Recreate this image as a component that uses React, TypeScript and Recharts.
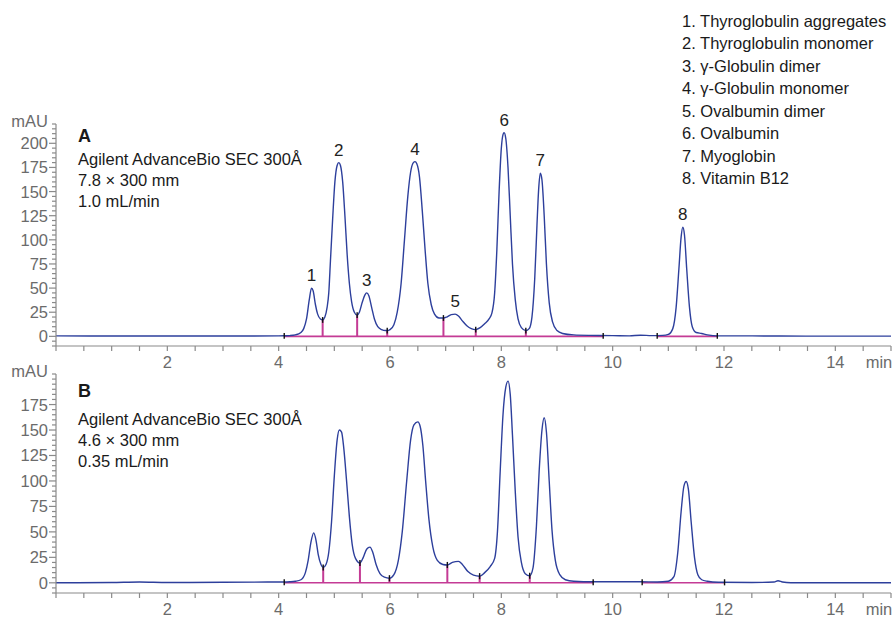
import React from 'react';
import { LineChart, Line, XAxis, YAxis, ReferenceLine, ReferenceDot } from 'recharts';

// ---------- Chromatogram A (7.8 x 300 mm, 1.0 mL/min) ----------
const timesA = [
  0, 1, 2, 3, 4.0, 4.1, 4.2, 4.3, 4.4, 4.45, 4.5, 4.55, 4.59, 4.62, 4.66, 4.7, 4.75, 4.79,
  4.83, 4.87, 4.9, 4.93, 4.97, 5.01, 5.05, 5.08, 5.11, 5.15, 5.19, 5.23, 5.27, 5.31, 5.36, 5.41,
  5.45, 5.5, 5.55, 5.58, 5.62, 5.67, 5.72, 5.78, 5.85, 5.92, 5.95, 6.0, 6.07, 6.13, 6.2, 6.26,
  6.32, 6.37, 6.42, 6.45, 6.48, 6.53, 6.58, 6.63, 6.68, 6.74, 6.8, 6.88, 6.96, 7.02, 7.1, 7.17,
  7.23, 7.3, 7.38, 7.46, 7.54, 7.62, 7.7, 7.78, 7.83, 7.88, 7.92, 7.96, 8.0, 8.03, 8.05, 8.08,
  8.12, 8.16, 8.2, 8.25, 8.3, 8.36, 8.44, 8.5, 8.55, 8.6, 8.64, 8.67, 8.7, 8.73, 8.77, 8.81,
  8.86, 8.92, 9.0, 9.1, 9.3, 9.6, 10.0, 10.3, 10.5, 10.7, 10.9, 11.0, 11.08, 11.14, 11.19, 11.23,
  11.26, 11.29, 11.33, 11.38, 11.43, 11.5, 11.6, 11.7, 11.9, 12.5, 13, 14, 15,
];
const valuesA = [
  0.5, 0.3, 0.4, 0.3, 0.5, 0.6, 0.8, 1.5, 4, 8, 18, 38, 50, 47, 33, 23, 18, 17,
  20, 30, 45, 78, 122, 160, 177, 180, 177, 160, 125, 85, 55, 36, 25, 22,
  25, 35, 43, 45, 42, 30, 18, 10, 7, 6, 6, 7, 12, 25, 55, 100,
  145, 170, 180, 181, 179, 165, 130, 90, 55, 33, 23, 19, 19, 20, 22.5, 23,
  21, 16, 11, 8, 7, 9, 13, 18, 24, 45, 90, 150, 195, 209, 211, 205,
  175, 125, 75, 38, 18, 9, 6, 8, 20, 60, 115, 152, 169, 162, 125, 75,
  35, 15, 6, 3, 1.5, 1, 0.8, 0.5, 1.2, 0.8, 1, 2, 8, 30, 70, 103,
  113, 105, 70, 30, 10, 4, 3, 1.5, 0.5, 0.5, 0.3, 0.2, 0.2,
];
const dropTimesA = [4.79, 5.41, 5.95, 6.96, 7.54, 8.44];
const dropValuesA = [17, 22, 6, 19, 7, 6];
const baseStartA = [4.1, 10.8];
const baseEndA = [9.83, 11.88];
const peakTimesA = [4.59, 5.08, 5.58, 6.45, 7.17, 8.05, 8.7, 11.26];
const peakValuesA = [50, 180, 45, 181, 23, 211, 169, 113];

// ---------- Chromatogram B (4.6 x 300 mm, 0.35 mL/min) ----------
const timesB = [
  0, 1, 1.5, 2, 3, 4, 4.1, 4.2, 4.3, 4.4, 4.48, 4.53, 4.58, 4.63, 4.67, 4.71, 4.76, 4.8,
  4.85, 4.9, 4.95, 5.0, 5.05, 5.09, 5.13, 5.17, 5.22, 5.27, 5.32, 5.38, 5.46, 5.52, 5.58, 5.64,
  5.69, 5.75, 5.82, 5.9, 5.99, 6.07, 6.15, 6.22, 6.3, 6.37, 6.43, 6.5, 6.54, 6.59, 6.64, 6.7,
  6.77, 6.85, 6.95, 7.03, 7.12, 7.23, 7.3, 7.4, 7.5, 7.61, 7.7, 7.8, 7.88, 7.93, 7.98, 8.03,
  8.08, 8.12, 8.16, 8.2, 8.25, 8.3, 8.36, 8.43, 8.51, 8.57, 8.63, 8.68, 8.73, 8.77, 8.81, 8.86,
  8.91, 8.97, 9.05, 9.15, 9.3, 9.65, 10.0, 10.5, 10.8, 11.0, 11.1, 11.17, 11.23, 11.28, 11.32, 11.36,
  11.41, 11.47, 11.53, 11.6, 11.7, 11.9, 12.5, 12.9, 12.97, 13.05, 13.2, 14, 15,
];
const valuesB = [
  0, 0.3, 0.8, 0.3, 0.5, 0.8, 0.8, 1, 1.5, 3, 10, 22, 40, 49, 42, 28, 18, 15,
  18, 30, 60, 105, 140, 150, 148, 132, 100, 65, 38, 24, 19.5, 25, 33, 35,
  30, 18, 9, 5.5, 4.5, 8, 22, 50, 100, 140, 155, 158, 154, 135, 100, 62,
  35, 22, 18, 17.5, 20, 21, 18, 11, 7.5, 6.5, 10, 16, 24, 50, 110, 165,
  192, 198, 185, 145, 90, 45, 20, 9, 7, 15, 55, 110, 150, 162, 148, 100,
  52, 22, 8, 3, 1.5, 1, 1, 1, 0.8, 1.5, 6, 30, 70, 95, 99.5, 92,
  60, 25, 8, 3, 1.5, 0.5, 0.3, 0.8, 2, 0.8, 0, 0, 0,
];
const dropTimesB = [4.8, 5.46, 5.99, 7.03, 7.61, 8.51];
const dropValuesB = [15, 19.5, 4.5, 17.5, 6.5, 7];
const baseStartB = [4.1, 10.53];
const baseEndB = [9.65, 12.01];

// ---------- Axis ticks & texts ----------
const xTicks = Array.from({ length: 31 }, (_, i) => i * 0.5);
const xLabelTicks = [2, 4, 6, 8, 10, 12, 14];
const yTicksA = Array.from({ length: 47 }, (_, i) => -10 + i * 5);
const yTicksB = Array.from({ length: 44 }, (_, i) => -10 + i * 5);
const yLabelMaxA = 200;
const yLabelMaxB = 175;
const legendItems = [
  '1. Thyroglobulin aggregates',
  '2. Thyroglobulin monomer',
  '3. γ-Globulin dimer',
  '4. γ-Globulin monomer',
  '5. Ovalbumin dimer',
  '6. Ovalbumin',
  '7. Myoglobin',
  '8. Vitamin B12',
];
const infoA = ['Agilent AdvanceBio SEC 300Å', '7.8 × 300 mm', '1.0 mL/min'];
const infoB = ['Agilent AdvanceBio SEC 300Å', '4.6 × 300 mm', '0.35 mL/min'];

const FONT = '"Liberation Sans", Arial, sans-serif';
const BLUE = '#2d3f9c';
const MAGENTA = '#c43b95';
const AXIS = '#8a8a8a';
const TICKTXT = '#6b6b6b';

const rowsA = timesA.map((t, i) => ({ t, v: valuesA[i] }));
const rowsB = timesB.map((t, i) => ({ t, v: valuesB[i] }));

const XTick = (props: any) => {
  const { x, y, payload } = props;
  const val = payload.value;
  const isLabel = xLabelTicks.includes(val);
  return (
    <g>
      <line x1={x} y1={y} x2={x} y2={y + 5} stroke={AXIS} strokeWidth={1.2} />
      {isLabel && (
        <text x={x} y={y + 22} textAnchor="middle" fontSize={16.5} fill={TICKTXT} fontFamily={FONT}>
          {val}
        </text>
      )}
      {val === 15 && (
        <text x={x - 12} y={y + 22} textAnchor="middle" fontSize={16.5} fill={TICKTXT} fontFamily={FONT}>
          min
        </text>
      )}
    </g>
  );
};

const makeYTick = (maxLabel: number, topVal: number) => (props: any) => {
  const { x, y, payload } = props;
  const val = payload.value;
  const major = val % 25 === 0 && val >= 0 && val <= maxLabel;
  return (
    <g>
      <line x1={x - (major ? 7 : 4)} y1={y} x2={x} y2={y} stroke={AXIS} strokeWidth={1.2} />
      {major && (
        <text x={x - 8} y={y + 6} textAnchor="end" fontSize={16.5} fill={TICKTXT} fontFamily={FONT}>
          {val}
        </text>
      )}
      {val === topVal && (
        <text x={x - 8} y={y + 3} textAnchor="end" fontSize={16.5} fill={TICKTXT} fontFamily={FONT}>
          mAU
        </text>
      )}
    </g>
  );
};

function Panel(props: {
  rows: { t: number; v: number }[];
  width: number;
  height: number;
  top: number;
  yDomain: [number, number];
  yTicks: number[];
  yMaxLabel: number;
  dropT: number[];
  dropV: number[];
  bStart: number[];
  bEnd: number[];
  peakT?: number[];
  peakV?: number[];
}) {
  const { rows, width, height, top, yDomain, yTicks, yMaxLabel, dropT, dropV, bStart, bEnd, peakT, peakV } = props;
  const topVal = yTicks[yTicks.length - 1];
  return (
    <LineChart width={width} height={height} data={rows} margin={{ top, right: 3, left: 0, bottom: 0 }}>
      <XAxis
        dataKey="t"
        type="number"
        domain={[0, 15]}
        ticks={xTicks}
        interval={0}
        tickSize={0}
        tickMargin={0}
        height={24}
        stroke={AXIS}
        strokeWidth={1.2}
        tick={<XTick />}
        allowDataOverflow
      />
      <YAxis
        type="number"
        domain={yDomain}
        ticks={yTicks}
        interval={0}
        tickSize={0}
        tickMargin={0}
        width={56}
        stroke={AXIS}
        strokeWidth={1.2}
        tick={makeYTick(yMaxLabel, topVal)}
        allowDataOverflow
      />
      {bStart.map((s, i) => (
        <ReferenceLine
          key={'b' + i}
          segment={[{ x: s, y: 0 }, { x: bEnd[i], y: 0 }]}
          stroke={MAGENTA}
          strokeWidth={1.6}
        />
      ))}
      {dropT.map((t, i) => (
        <ReferenceLine
          key={'d' + i}
          segment={[{ x: t, y: 0 }, { x: t, y: dropV[i] }]}
          stroke={MAGENTA}
          strokeWidth={2}
        />
      ))}
      <Line type="monotone" dataKey="v" stroke={BLUE} strokeWidth={1.4} dot={false} isAnimationActive={false} />
      {dropT.map((t, i) => (
        <ReferenceLine
          key={'k' + i}
          segment={[{ x: t, y: dropV[i] - 3 }, { x: t, y: dropV[i] + 3 }]}
          stroke="#111"
          strokeWidth={1.4}
        />
      ))}
      {[...bStart, ...bEnd].map((t, i) => (
        <ReferenceLine
          key={'e' + i}
          segment={[{ x: t, y: -2.5 }, { x: t, y: 3.5 }]}
          stroke="#111"
          strokeWidth={1.4}
        />
      ))}
      {peakT &&
        peakV &&
        peakT.map((t, i) => (
          <ReferenceDot
            key={'p' + i}
            x={t}
            y={peakV[i]}
            r={0}
            fill="none"
            stroke="none"
            label={{ value: String(i + 1), position: 'top', offset: 7, fill: '#222', fontSize: 17, fontFamily: FONT }}
          />
        ))}
    </LineChart>
  );
}

export default function App() {
  return (
    <div style={{ position: 'absolute', left: 0, top: 0, width: 894, height: 617, background: '#fff', fontFamily: FONT }}>
      <div style={{ position: 'absolute', left: 0, top: 0 }}>
        <Panel
          rows={rowsA}
          width={894}
          height={370}
          top={124}
          yDomain={[-10, 220]}
          yTicks={yTicksA}
          yMaxLabel={yLabelMaxA}
          dropT={dropTimesA}
          dropV={dropValuesA}
          bStart={baseStartA}
          bEnd={baseEndA}
          peakT={peakTimesA}
          peakV={peakValuesA}
        />
      </div>
      <div style={{ position: 'absolute', left: 0, top: 352 }}>
        <Panel
          rows={rowsB}
          width={894}
          height={265}
          top={22}
          yDomain={[-10, 205]}
          yTicks={yTicksB}
          yMaxLabel={yLabelMaxB}
          dropT={dropTimesB}
          dropV={dropValuesB}
          bStart={baseStartB}
          bEnd={baseEndB}
        />
      </div>
      <svg width={894} height={617} style={{ position: 'absolute', left: 0, top: 0, pointerEvents: 'none' }}>
        <g fontFamily={FONT} fill="#1a1a1a">
          {legendItems.map((s, i) => (
            <text key={s} x={682} y={26.5 + i * 22.5} fontSize={16.5}>
              {s}
            </text>
          ))}
          <text x={78} y={142} fontSize={18} fontWeight="bold">A</text>
          {infoA.map((s, i) => (
            <text key={'a' + i} x={78} y={165 + i * 21} fontSize={16.5}>
              {s}
            </text>
          ))}
          <text x={78} y={397} fontSize={18} fontWeight="bold">B</text>
          {infoB.map((s, i) => (
            <text key={'b' + i} x={78} y={425 + i * 21} fontSize={16.5}>
              {s}
            </text>
          ))}
        </g>
      </svg>
    </div>
  );
}
